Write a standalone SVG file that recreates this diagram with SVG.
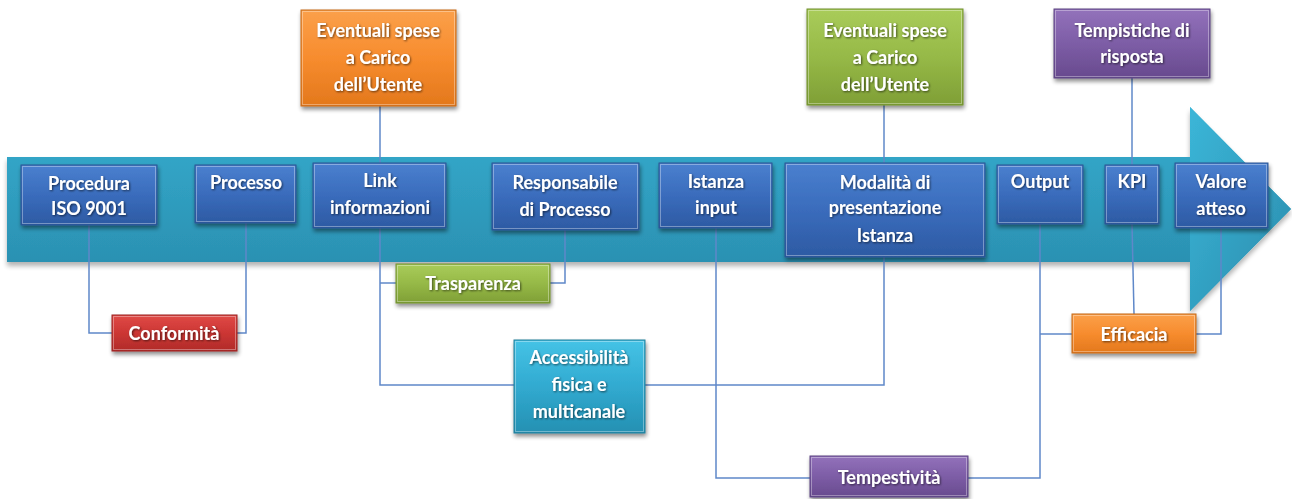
<svg xmlns="http://www.w3.org/2000/svg" width="1292" height="499" viewBox="0 0 1292 499">
  <defs>
    <style>
      .lbl { font-family: Lato, "Liberation Sans", sans-serif; font-weight: bold; font-size: 18px; fill: #ffffff; text-anchor: middle; filter: url(#txtShadow); }
      .box { stroke-width: 1; filter: url(#boxShadow); }
      .blue { fill: url(#gBlue); stroke: #2c5491; }
      .orange { fill: url(#gOrange); stroke: #c46a1c; }
      .green { fill: url(#gGreen); stroke: #71902f; }
      .purple { fill: url(#gPurple); stroke: #5b4380; }
      .red { fill: url(#gRed); stroke: #9a2624; }
      .cyan { fill: url(#gCyan); stroke: #1f7d98; }
      .hl { fill: none; stroke: #ffffff; stroke-opacity: 0.35; stroke-width: 1; }
      .conn { fill: none; stroke: #5f88c9; stroke-width: 1.5; }
    </style>
    <linearGradient id="gBlue" x1="0" y1="0" x2="0" y2="1">
      <stop offset="0" stop-color="#4a80cf"/>
      <stop offset="0.5" stop-color="#3a6cbc"/>
      <stop offset="1" stop-color="#2d5aa3"/>
    </linearGradient>
    <linearGradient id="gOrange" x1="0" y1="0" x2="0" y2="1">
      <stop offset="0" stop-color="#fba04a"/>
      <stop offset="0.5" stop-color="#f78c2e"/>
      <stop offset="1" stop-color="#e3781c"/>
    </linearGradient>
    <linearGradient id="gGreen" x1="0" y1="0" x2="0" y2="1">
      <stop offset="0" stop-color="#a9cc5a"/>
      <stop offset="0.5" stop-color="#96b947"/>
      <stop offset="1" stop-color="#7f9f36"/>
    </linearGradient>
    <linearGradient id="gPurple" x1="0" y1="0" x2="0" y2="1">
      <stop offset="0" stop-color="#9372bb"/>
      <stop offset="0.5" stop-color="#7d5da6"/>
      <stop offset="1" stop-color="#684a8e"/>
    </linearGradient>
    <linearGradient id="gRed" x1="0" y1="0" x2="0" y2="1">
      <stop offset="0" stop-color="#e04a47"/>
      <stop offset="0.5" stop-color="#cc3634"/>
      <stop offset="1" stop-color="#b02b29"/>
    </linearGradient>
    <linearGradient id="gCyan" x1="0" y1="0" x2="0" y2="1">
      <stop offset="0" stop-color="#45c3e6"/>
      <stop offset="0.5" stop-color="#31aad0"/>
      <stop offset="1" stop-color="#2590b2"/>
    </linearGradient>
    <linearGradient id="gShaft" x1="0" y1="0" x2="0" y2="1">
      <stop offset="0" stop-color="#35aed0"/>
      <stop offset="1" stop-color="#2888a9"/>
    </linearGradient>
    <linearGradient id="gHead" x1="0" y1="0" x2="1" y2="1">
      <stop offset="0" stop-color="#3bb6d8"/>
      <stop offset="1" stop-color="#2a8cad"/>
    </linearGradient>
    <filter id="boxShadow" x="-10%" y="-10%" width="125%" height="135%">
      <feGaussianBlur in="SourceAlpha" stdDeviation="2"/>
      <feOffset dx="1" dy="3" result="b"/>
      <feComponentTransfer><feFuncA type="linear" slope="0.45"/></feComponentTransfer>
      <feMerge><feMergeNode/><feMergeNode in="SourceGraphic"/></feMerge>
    </filter>
    <filter id="arrowShadow" x="-5%" y="-10%" width="110%" height="130%">
      <feGaussianBlur in="SourceAlpha" stdDeviation="2.5"/>
      <feOffset dx="0" dy="4"/>
      <feComponentTransfer><feFuncA type="linear" slope="0.3"/></feComponentTransfer>
      <feMerge><feMergeNode/><feMergeNode in="SourceGraphic"/></feMerge>
    </filter>
    <filter id="txtShadow" x="-10%" y="-30%" width="120%" height="160%">
      <feGaussianBlur in="SourceAlpha" stdDeviation="0.9"/>
      <feOffset dx="0.5" dy="1"/>
      <feComponentTransfer><feFuncA type="linear" slope="0.6"/></feComponentTransfer>
      <feMerge><feMergeNode/><feMergeNode in="SourceGraphic"/></feMerge>
    </filter>
  </defs>

  <rect width="1292" height="499" fill="#ffffff"/>

  <!-- process arrow -->
  <g id="arrow" filter="url(#arrowShadow)">
    <path d="M7,157 H1190 V107 L1291,209 L1190,311 V262 H7 Z" fill="url(#gShaft)"/>
    <path d="M1190,107 L1291,209 L1190,311 Z" fill="url(#gHead)"/>
  </g>

  <!-- connectors -->
  <g id="connectors" class="conn">
    <path d="M89,225 V333 H112"/>
    <path d="M246,223 V333 H237"/>
    <path d="M380,163 V106"/>
    <path d="M380,228 V385 H514"/>
    <path d="M380,283 H396"/>
    <path d="M565,230 V283 H550"/>
    <path d="M716,228 V478 H810"/>
    <path d="M884,163 V105"/>
    <path d="M884,257 V385 H645"/>
    <path d="M1040,224 V478 H968"/>
    <path d="M1040,334 H1072"/>
    <path d="M1132,165 V78"/>
    <path d="M1132,224 L1134,314"/>
    <path d="M1221,228 V334 H1196"/>
  </g>

  <!-- process steps -->
  <g id="n-procedura">
    <rect class="box blue" x="21" y="165" width="136" height="60"/>
    <rect class="hl" x="22.5" y="166.5" width="133" height="57"/>
    <text class="lbl" x="89" y="190">Procedura</text>
    <text class="lbl" x="89" y="215">ISO 9001</text>
  </g>
  <g id="n-processo">
    <rect class="box blue" x="195" y="165" width="101" height="58"/>
    <rect class="hl" x="196.5" y="166.5" width="98" height="55"/>
    <text class="lbl" x="246" y="189">Processo</text>
  </g>
  <g id="n-link">
    <rect class="box blue" x="313" y="163" width="133" height="65"/>
    <rect class="hl" x="314.5" y="164.5" width="130" height="62"/>
    <text class="lbl" x="380" y="187">Link</text>
    <text class="lbl" x="380" y="214">informazioni</text>
  </g>
  <g id="n-responsabile">
    <rect class="box blue" x="492" y="163" width="147" height="67"/>
    <rect class="hl" x="493.5" y="164.5" width="144" height="64"/>
    <text class="lbl" x="565" y="189">Responsabile</text>
    <text class="lbl" x="565" y="216">di Processo</text>
  </g>
  <g id="n-istanza">
    <rect class="box blue" x="659" y="163" width="113" height="65"/>
    <rect class="hl" x="660.5" y="164.5" width="110" height="62"/>
    <text class="lbl" x="716" y="188">Istanza</text>
    <text class="lbl" x="716" y="214">input</text>
  </g>
  <g id="n-modalita">
    <rect class="box blue" x="785" y="163" width="200" height="94"/>
    <rect class="hl" x="786.5" y="164.5" width="197" height="91"/>
    <text class="lbl" x="885" y="189">Modalità di</text>
    <text class="lbl" x="885" y="214">presentazione</text>
    <text class="lbl" x="885" y="242">Istanza</text>
  </g>
  <g id="n-output">
    <rect class="box blue" x="997" y="165" width="86" height="59"/>
    <rect class="hl" x="998.5" y="166.5" width="83" height="56"/>
    <text class="lbl" x="1040" y="188">Output</text>
  </g>
  <g id="n-kpi">
    <rect class="box blue" x="1105" y="165" width="54" height="59"/>
    <rect class="hl" x="1106.5" y="166.5" width="51" height="56"/>
    <text class="lbl" x="1132" y="188">KPI</text>
  </g>
  <g id="n-valore">
    <rect class="box blue" x="1175" y="163" width="93" height="65"/>
    <rect class="hl" x="1176.5" y="164.5" width="90" height="62"/>
    <text class="lbl" x="1221" y="188">Valore</text>
    <text class="lbl" x="1221" y="215">atteso</text>
  </g>

  <!-- upper notes -->
  <g id="n-spese-1">
    <rect class="box orange" x="301" y="10" width="155" height="96"/>
    <rect class="hl" x="302.5" y="11.5" width="152" height="93"/>
    <text class="lbl" x="378" y="37">Eventuali spese</text>
    <text class="lbl" x="378" y="64">a Carico</text>
    <text class="lbl" x="378" y="91">dell’Utente</text>
  </g>
  <g id="n-spese-2">
    <rect class="box green" x="807" y="9" width="156" height="96"/>
    <rect class="hl" x="808.5" y="10.5" width="153" height="93"/>
    <text class="lbl" x="885" y="37">Eventuali spese</text>
    <text class="lbl" x="885" y="64">a Carico</text>
    <text class="lbl" x="885" y="91">dell’Utente</text>
  </g>
  <g id="n-tempistiche">
    <rect class="box purple" x="1054" y="9" width="156" height="69"/>
    <rect class="hl" x="1055.5" y="10.5" width="153" height="66"/>
    <text class="lbl" x="1132" y="37">Tempistiche di</text>
    <text class="lbl" x="1132" y="63">risposta</text>
  </g>

  <!-- quality dimensions -->
  <g id="n-conformita">
    <rect class="box red" x="112" y="315" width="125" height="36"/>
    <rect class="hl" x="113.5" y="316.5" width="122" height="33"/>
    <text class="lbl" x="174" y="340">Conformità</text>
  </g>
  <g id="n-trasparenza">
    <rect class="box green" x="396" y="264" width="154" height="39"/>
    <rect class="hl" x="397.5" y="265.5" width="151" height="36"/>
    <text class="lbl" x="473" y="290">Trasparenza</text>
  </g>
  <g id="n-accessibilita">
    <rect class="box cyan" x="514" y="340" width="131" height="93"/>
    <rect class="hl" x="515.5" y="341.5" width="128" height="90"/>
    <text class="lbl" x="579" y="364">Accessibilità</text>
    <text class="lbl" x="579" y="391">fisica e</text>
    <text class="lbl" x="579" y="418">multicanale</text>
  </g>
  <g id="n-tempestivita">
    <rect class="box purple" x="810" y="456" width="158" height="41"/>
    <rect class="hl" x="811.5" y="457.5" width="155" height="38"/>
    <text class="lbl" x="889" y="484">Tempestività</text>
  </g>
  <g id="n-efficacia">
    <rect class="box orange" x="1072" y="314" width="124" height="39"/>
    <rect class="hl" x="1073.5" y="315.5" width="121" height="36"/>
    <text class="lbl" x="1134" y="341">Efficacia</text>
  </g>
</svg>
